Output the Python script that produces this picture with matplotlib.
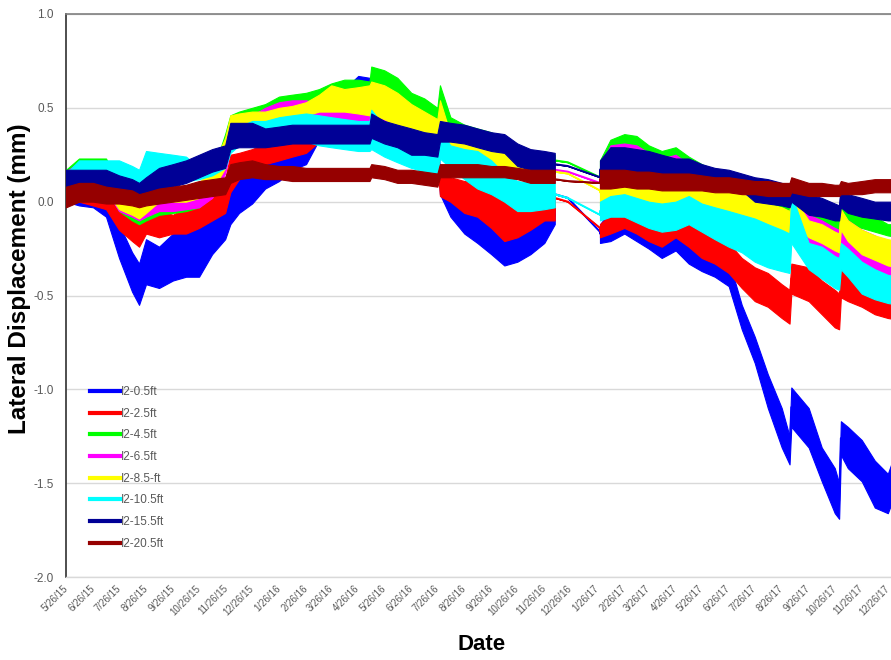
import numpy as np
import pandas as pd
import matplotlib
matplotlib.use("Agg")
import matplotlib.pyplot as plt
from matplotlib.lines import Line2D
from matplotlib.ticker import FuncFormatter

plt.rcParams['font.family'] = ['Liberation Sans', 'DejaVu Sans']

# Reading dates (the repeated dates mark where logging stops and restarts)
DATES = ["2015-05-26", "2015-06-10", "2015-06-26", "2015-07-11", "2015-07-26", "2015-08-10",
         "2015-08-18", "2015-08-26", "2015-09-10", "2015-09-26", "2015-10-11", "2015-10-26",
         "2015-11-10", "2015-11-25", "2015-12-01", "2015-12-11", "2015-12-26",
         "2016-01-10", "2016-01-26", "2016-02-10", "2016-02-26", "2016-03-12", "2016-03-26",
         "2016-04-10", "2016-04-26",
         "2016-05-09", "2016-05-11", "2016-05-26", "2016-06-10", "2016-06-26", "2016-07-11",
         "2016-07-26",
         "2016-07-29", "2016-08-10", "2016-08-26", "2016-09-10", "2016-09-26", "2016-10-11",
         "2016-10-26", "2016-11-10", "2016-11-26", "2016-12-08",
         "2016-12-08", "2016-12-23", "2017-01-29",
         "2017-01-29", "2017-02-10", "2017-02-26", "2017-03-12", "2017-03-26", "2017-04-10",
         "2017-04-26", "2017-05-11", "2017-05-26", "2017-06-10", "2017-06-26",
         "2017-07-11", "2017-07-26", "2017-08-10", "2017-08-26", "2017-09-04", "2017-09-06",
         "2017-09-26", "2017-10-11", "2017-10-26", "2017-10-31", "2017-11-02", "2017-11-10",
         "2017-11-26", "2017-12-11", "2017-12-26", "2018-01-08"]

# Daily high / low envelope of lateral displacement (mm) for each gauge depth
I2_05_HI = [0.17, 0.12, 0.10, 0.05, -0.12, -0.27, -0.33, -0.20, -0.24, -0.17, -0.15, -0.14,
            0.00, 0.05, 0.10, 0.13, 0.20,
            0.26, 0.29, 0.30, 0.33, 0.42, 0.50, 0.60, 0.67,
            0.66, 0.62, 0.60, 0.55, 0.50, 0.45, 0.40,
            0.16, 0.08, 0.00, -0.07, -0.10, -0.14, -0.14, -0.12, -0.08, -0.03,
            0.04, 0.02, -0.16,
            -0.12, -0.05, -0.07, -0.10, -0.14, -0.15, -0.12, -0.15, -0.21, -0.26, -0.31,
            -0.55, -0.72, -0.92, -1.10, -1.25, -0.99, -1.10, -1.31, -1.42, -1.50, -1.17, -1.20,
            -1.27, -1.38, -1.45, -1.28]
I2_05_LO = [0.00, -0.02, -0.03, -0.08, -0.30, -0.48, -0.55, -0.44, -0.46, -0.42, -0.40, -0.40,
            -0.28, -0.20, -0.12, -0.06, -0.01,
            0.07, 0.11, 0.17, 0.20, 0.33, 0.36, 0.42, 0.45,
            0.46, 0.44, 0.42, 0.38, 0.35, 0.32, 0.28,
            0.04, -0.08, -0.17, -0.22, -0.28, -0.34, -0.32, -0.28, -0.22, -0.12,
            0.04, 0.02, -0.16,
            -0.22, -0.21, -0.17, -0.21, -0.25, -0.30, -0.26, -0.33, -0.37, -0.40, -0.45,
            -0.68, -0.86, -1.10, -1.31, -1.40, -1.20, -1.31, -1.49, -1.66, -1.69, -1.35, -1.42,
            -1.49, -1.63, -1.66, -1.50]

I2_25_HI = [0.15, 0.12, 0.10, 0.06, -0.03, -0.05, -0.05, -0.01, -0.05, -0.07, -0.03, 0.00,
            0.06, 0.12, 0.25, 0.26, 0.28,
            0.31, 0.31, 0.33, 0.34, 0.38, 0.40, 0.42, 0.42,
            0.42, 0.40, 0.38, 0.36, 0.35, 0.33, 0.30,
            0.15, 0.13, 0.11, 0.11, 0.07, 0.04, -0.01, -0.02, -0.03, -0.01,
            0.02, 0.00, -0.14,
            -0.12, -0.07, -0.03, -0.05, -0.08, -0.10, -0.05, -0.12, -0.15, -0.19, -0.22,
            -0.30, -0.35, -0.38, -0.44, -0.47, -0.33, -0.35, -0.42, -0.47, -0.49, -0.33, -0.37,
            -0.42, -0.46, -0.49, -0.50]
I2_25_LO = [0.00, 0.00, -0.02, -0.04, -0.15, -0.21, -0.24, -0.17, -0.19, -0.17, -0.17, -0.14,
            -0.10, -0.06, 0.05, 0.12, 0.17,
            0.20, 0.22, 0.24, 0.26, 0.32, 0.32, 0.32, 0.32,
            0.32, 0.30, 0.28, 0.26, 0.25, 0.22, 0.20,
            0.03, 0.00, -0.06, -0.08, -0.14, -0.21, -0.19, -0.15, -0.10, -0.10,
            0.02, 0.00, -0.14,
            -0.19, -0.17, -0.14, -0.17, -0.21, -0.24, -0.19, -0.24, -0.30, -0.33, -0.38,
            -0.46, -0.53, -0.56, -0.62, -0.65, -0.49, -0.53, -0.60, -0.67, -0.68, -0.51, -0.53,
            -0.56, -0.60, -0.62, -0.63]

I2_45_HI = [0.17, 0.23, 0.23, 0.23, 0.10, 0.02, -0.03, 0.00, 0.04, 0.05, 0.06, 0.08,
            0.15, 0.36, 0.46, 0.48, 0.50,
            0.52, 0.56, 0.57, 0.58, 0.60, 0.63, 0.65, 0.65,
            0.64, 0.72, 0.70, 0.66, 0.58, 0.55, 0.50,
            0.62, 0.45, 0.41, 0.39, 0.37, 0.33, 0.29, 0.27, 0.25, 0.25,
            0.22, 0.21, 0.13,
            0.22, 0.33, 0.36, 0.35, 0.30, 0.27, 0.29, 0.24, 0.20, 0.17, 0.14,
            0.12, 0.10, 0.07, 0.05, 0.04, 0.06, -0.01, -0.03, -0.05, -0.06, 0.00, -0.02,
            -0.05, -0.08, -0.12, -0.12]
I2_45_LO = [0.02, 0.10, 0.10, 0.08, -0.05, -0.10, -0.12, -0.10, -0.07, -0.06, -0.05, -0.03,
            0.03, 0.20, 0.30, 0.32, 0.35,
            0.38, 0.40, 0.42, 0.44, 0.45, 0.46, 0.46, 0.46,
            0.48, 0.50, 0.50, 0.48, 0.44, 0.42, 0.38,
            0.42, 0.30, 0.26, 0.24, 0.22, 0.20, 0.18, 0.16, 0.15, 0.16,
            0.22, 0.21, 0.13,
            0.10, 0.20, 0.22, 0.20, 0.17, 0.15, 0.15, 0.12, 0.08, 0.05, 0.02,
            0.00, -0.03, -0.06, -0.08, -0.10, -0.04, -0.10, -0.12, -0.14, -0.15, -0.10, -0.12,
            -0.14, -0.16, -0.18, -0.19]

I2_65_HI = [0.16, 0.21, 0.21, 0.20, 0.08, 0.02, -0.02, 0.02, 0.06, 0.06, 0.06, 0.07,
            0.12, 0.30, 0.42, 0.44, 0.46,
            0.50, 0.53, 0.54, 0.54, 0.52, 0.50, 0.48, 0.47,
            0.46, 0.50, 0.48, 0.46, 0.44, 0.42, 0.40,
            0.50, 0.36, 0.33, 0.31, 0.29, 0.26, 0.24, 0.22, 0.20, 0.19,
            0.17, 0.16, 0.10,
            0.18, 0.30, 0.31, 0.30, 0.26, 0.23, 0.25, 0.20, 0.16, 0.12, 0.08,
            0.05, 0.02, -0.02, -0.05, -0.07, 0.00, -0.07, -0.10, -0.14, -0.15, -0.05, -0.10,
            -0.15, -0.18, -0.22, -0.22]
I2_65_LO = [0.02, 0.08, 0.08, 0.06, -0.05, -0.08, -0.10, -0.08, -0.05, -0.05, -0.04, -0.03,
            0.02, 0.15, 0.28, 0.30, 0.33,
            0.36, 0.38, 0.40, 0.41, 0.41, 0.41, 0.41, 0.40,
            0.40, 0.40, 0.38, 0.36, 0.34, 0.32, 0.30,
            0.35, 0.24, 0.22, 0.20, 0.18, 0.15, 0.14, 0.12, 0.11, 0.10,
            0.17, 0.16, 0.10,
            0.06, 0.15, 0.17, 0.15, 0.12, 0.10, 0.10, 0.05, 0.00, -0.04, -0.07,
            -0.12, -0.15, -0.19, -0.22, -0.24, -0.15, -0.24, -0.27, -0.31, -0.32, -0.22, -0.27,
            -0.35, -0.38, -0.41, -0.42]

I2_85_HI = [0.15, 0.20, 0.20, 0.19, 0.06, 0.00, -0.03, 0.01, 0.07, 0.07, 0.08, 0.10,
            0.18, 0.34, 0.46, 0.47, 0.48,
            0.48, 0.50, 0.51, 0.53, 0.57, 0.62, 0.60, 0.61,
            0.62, 0.64, 0.62, 0.58, 0.52, 0.48, 0.44,
            0.54, 0.36, 0.31, 0.29, 0.28, 0.26, 0.20, 0.18, 0.17, 0.17,
            0.16, 0.15, 0.06,
            0.12, 0.15, 0.16, 0.12, 0.10, 0.09, 0.09, 0.10, 0.08, 0.06, 0.05,
            0.04, 0.02, -0.01, -0.03, -0.05, 0.04, -0.10, -0.12, -0.16, -0.17, -0.04, -0.10,
            -0.15, -0.18, -0.20, -0.21]
I2_85_LO = [0.02, 0.08, 0.08, 0.06, -0.04, -0.07, -0.09, -0.06, 0.00, 0.00, 0.00, 0.02,
            0.06, 0.18, 0.30, 0.32, 0.35,
            0.38, 0.42, 0.44, 0.46, 0.48, 0.48, 0.48, 0.47,
            0.46, 0.46, 0.44, 0.40, 0.38, 0.36, 0.33,
            0.36, 0.26, 0.24, 0.22, 0.20, 0.18, 0.14, 0.13, 0.12, 0.12,
            0.16, 0.15, 0.06,
            -0.02, 0.00, 0.00, -0.03, -0.04, -0.06, -0.06, -0.04, -0.06, -0.08, -0.10,
            -0.12, -0.15, -0.17, -0.19, -0.21, -0.10, -0.19, -0.22, -0.26, -0.27, -0.15, -0.21,
            -0.28, -0.31, -0.34, -0.35]

I2_105_HI = [0.15, 0.22, 0.22, 0.22, 0.22, 0.19, 0.17, 0.27, 0.26, 0.25, 0.24, 0.18,
             0.20, 0.28, 0.34, 0.40, 0.43,
             0.43, 0.45, 0.46, 0.47, 0.46, 0.45, 0.44, 0.43,
             0.43, 0.49, 0.40, 0.38, 0.34, 0.32, 0.30,
             0.38, 0.30, 0.28, 0.27, 0.22, 0.15, 0.11, 0.10, 0.10, 0.10,
             0.04, 0.02, -0.07,
             0.00, 0.03, 0.04, 0.02, 0.00, -0.01, 0.00, 0.03, -0.01, -0.03, -0.05,
             -0.07, -0.09, -0.12, -0.15, -0.17, 0.04, -0.22, -0.24, -0.29, -0.30, -0.22, -0.25,
             -0.32, -0.36, -0.39, -0.40]
I2_105_LO = [0.05, 0.15, 0.14, 0.12, 0.10, 0.08, 0.07, 0.10, 0.13, 0.12, 0.11, 0.12,
             0.14, 0.18, 0.26, 0.30, 0.32,
             0.32, 0.33, 0.33, 0.32, 0.30, 0.29, 0.28, 0.27,
             0.27, 0.28, 0.24, 0.21, 0.18, 0.16, 0.15,
             0.23, 0.18, 0.12, 0.07, 0.04, 0.00, -0.05, -0.05, -0.04, -0.03,
             0.04, 0.02, -0.07,
             -0.10, -0.08, -0.08, -0.11, -0.14, -0.16, -0.15, -0.12, -0.16, -0.20, -0.24,
             -0.27, -0.32, -0.35, -0.37, -0.38, -0.22, -0.36, -0.41, -0.46, -0.47, -0.36, -0.40,
             -0.49, -0.52, -0.54, -0.55]

I2_155_HI = [0.17, 0.17, 0.17, 0.17, 0.14, 0.12, 0.10, 0.13, 0.18, 0.20, 0.22, 0.25,
             0.28, 0.30, 0.42, 0.42, 0.42,
             0.39, 0.40, 0.41, 0.41, 0.41, 0.41, 0.41, 0.41,
             0.41, 0.47, 0.43, 0.41, 0.39, 0.37, 0.36,
             0.43, 0.42, 0.41, 0.39, 0.37, 0.36, 0.31, 0.28, 0.27, 0.26,
             0.20, 0.19, 0.13,
             0.22, 0.29, 0.29, 0.28, 0.27, 0.25, 0.23, 0.23, 0.20, 0.18, 0.17,
             0.15, 0.13, 0.12, 0.10, 0.09, 0.12, 0.04, 0.02, -0.01, -0.02, 0.08, 0.04,
             0.02, 0.00, 0.00, 0.00]
I2_155_LO = [0.03, 0.07, 0.07, 0.06, 0.04, 0.03, 0.02, 0.04, 0.06, 0.08, 0.10, 0.13,
             0.16, 0.18, 0.28, 0.29, 0.29,
             0.29, 0.30, 0.31, 0.31, 0.31, 0.31, 0.31, 0.31,
             0.31, 0.34, 0.31, 0.29, 0.25, 0.25, 0.24,
             0.32, 0.32, 0.31, 0.29, 0.27, 0.26, 0.19, 0.17, 0.16, 0.15,
             0.20, 0.19, 0.13,
             0.12, 0.15, 0.15, 0.14, 0.13, 0.12, 0.11, 0.13, 0.11, 0.09, 0.08,
             0.06, 0.00, -0.01, -0.02, -0.03, 0.00, -0.07, -0.08, -0.10, -0.10, -0.03, -0.06,
             -0.08, -0.09, -0.10, -0.10]

I2_205_HI = [0.08, 0.10, 0.10, 0.08, 0.07, 0.06, 0.04, 0.05, 0.07, 0.08, 0.09, 0.11,
             0.12, 0.13, 0.20, 0.21, 0.22,
             0.20, 0.19, 0.19, 0.18, 0.18, 0.18, 0.18, 0.18,
             0.18, 0.20, 0.19, 0.17, 0.17, 0.16, 0.15,
             0.20, 0.20, 0.20, 0.20, 0.19, 0.19, 0.18, 0.17, 0.17, 0.17,
             0.12, 0.11, 0.10,
             0.17, 0.17, 0.17, 0.16, 0.16, 0.15, 0.15, 0.15, 0.14, 0.13, 0.13,
             0.12, 0.11, 0.11, 0.10, 0.10, 0.13, 0.10, 0.10, 0.09, 0.09, 0.11, 0.10,
             0.11, 0.12, 0.12, 0.12]
I2_205_LO = [-0.03, 0.00, 0.00, -0.01, -0.01, -0.02, -0.03, -0.02, -0.01, 0.00, 0.01, 0.02,
             0.03, 0.04, 0.10, 0.12, 0.13,
             0.12, 0.12, 0.11, 0.11, 0.11, 0.11, 0.11, 0.11,
             0.11, 0.13, 0.12, 0.10, 0.10, 0.09, 0.08,
             0.13, 0.13, 0.13, 0.13, 0.13, 0.13, 0.12, 0.10, 0.10, 0.10,
             0.12, 0.11, 0.10,
             0.07, 0.07, 0.08, 0.07, 0.07, 0.06, 0.06, 0.06, 0.06, 0.05, 0.05,
             0.04, 0.04, 0.03, 0.03, 0.03, 0.05, 0.03, 0.03, 0.03, 0.03, 0.04, 0.04,
             0.04, 0.05, 0.05, 0.05]

LABELS = ["I2-0.5ft", "I2-2.5ft", "I2-4.5ft", "I2-6.5ft",
          "I2-8.5-ft", "I2-10.5ft", "I2-15.5ft", "I2-20.5ft"]
COLORS = ["#0000FF", "#FF0000", "#00FF00", "#FF00FF",
          "#FFFF00", "#00FFFF", "#000096", "#960000"]
HIGHS = [I2_05_HI, I2_25_HI, I2_45_HI, I2_65_HI, I2_85_HI, I2_105_HI, I2_155_HI, I2_205_HI]
LOWS = [I2_05_LO, I2_25_LO, I2_45_LO, I2_65_LO, I2_85_LO, I2_105_LO, I2_155_LO, I2_205_LO]

dates = pd.to_datetime(DATES)
start = pd.Timestamp("2015-05-26")

W, H = 891, 660
fig = plt.figure(figsize=(W / 100, H / 100), dpi=100)
ax = fig.add_axes([66 / W, 83 / H, 854 / W, 563 / H])

for i, (hi, lo, color) in enumerate(zip(HIGHS, LOWS, COLORS)):
    hi = np.asarray(hi)
    lo = np.asarray(lo)
    z = 3 + i
    ax.fill_between(dates, lo, hi, facecolor=color, edgecolor=color, lw=0.8, zorder=z)
    ax.plot(dates, (hi + lo) / 2, color=color, lw=1.4, zorder=z, solid_joinstyle="round")

ax.set_xlim(start, start + pd.Timedelta(days=982))
ax.set_ylim(-2.0, 1.0)

ticks = pd.date_range("2015-05-26", "2017-12-26", freq=pd.DateOffset(months=1))
ax.set_xticks(ticks)
ax.set_xticklabels([f"{t.month}/{t.day}/{t.year % 100}" for t in ticks],
                   rotation=45, ha="right", va="center", rotation_mode="anchor",
                   fontsize=7, color="#595959")
ax.tick_params(axis="x", length=0, pad=7)

ax.set_yticks(np.arange(-2.0, 1.01, 0.5))
ax.yaxis.set_major_formatter(FuncFormatter(lambda v, p: f"{v:.1f}"))
ax.tick_params(axis="y", length=0, pad=9, labelsize=8.5, labelcolor="#595959")

ax.grid(axis="y", color="#d9d9d9", lw=1.0, zorder=0)
ax.set_axisbelow(True)
ax.spines["right"].set_visible(False)
ax.spines["left"].set_color("#404040")
ax.spines["left"].set_linewidth(1.3)
ax.spines["top"].set_color("#7f7f7f")
ax.spines["top"].set_linewidth(1.2)
ax.spines["bottom"].set_color("#d9d9d9")
ax.spines["bottom"].set_linewidth(1.0)

fig.text(20 / W, 1 - 279 / H, "Lateral Displacement (mm)", rotation=90,
         ha="center", va="center", fontsize=17.5, fontweight="bold", color="black")
fig.text(482 / W, 1 - 645 / H, "Date", ha="center", va="center",
         fontsize=16, fontweight="bold", color="black")

handles = [Line2D([], [], color=c, lw=3) for c in COLORS]
ax.legend(handles, LABELS, loc="upper left", bbox_to_anchor=(90 / W, 1 - 386 / H),
          bbox_transform=fig.transFigure, frameon=False, fontsize=8.5,
          labelcolor="#595959", handlelength=2.5, handletextpad=0.1,
          labelspacing=0.82, borderpad=0, borderaxespad=0)

fig.savefig("out.png", dpi=100, facecolor="white")
